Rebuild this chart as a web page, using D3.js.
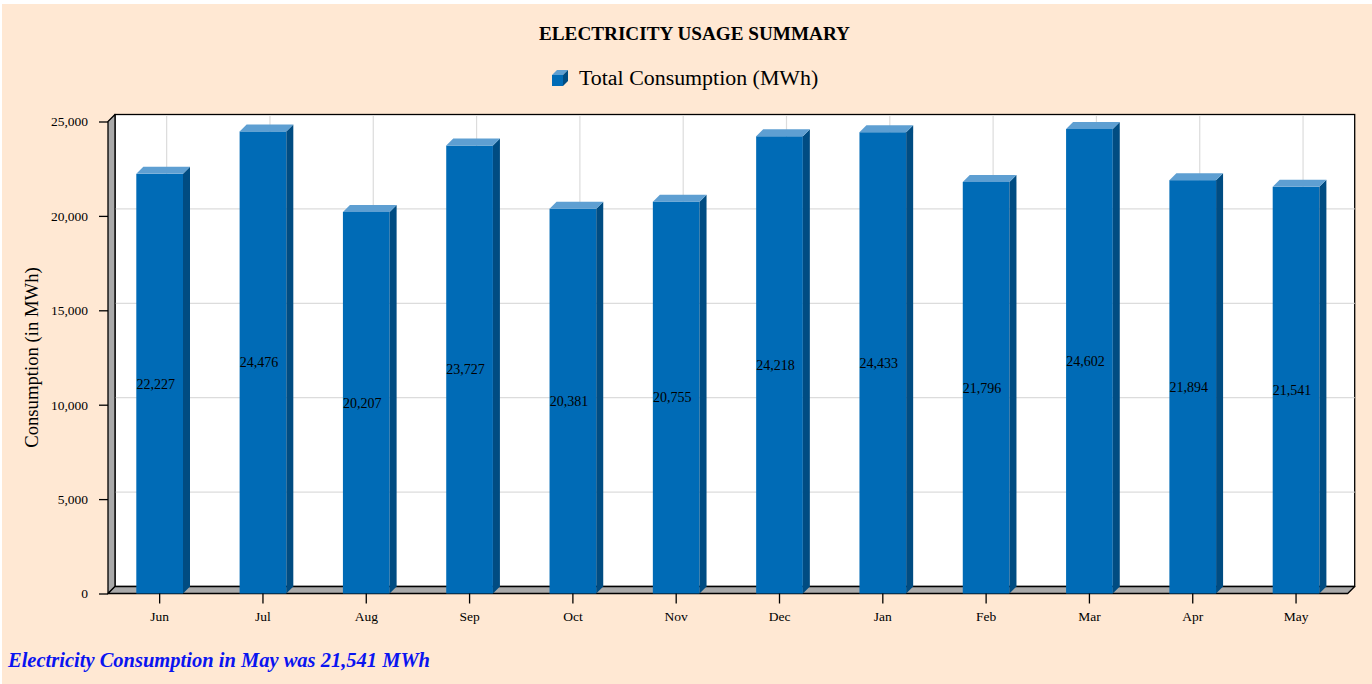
<!DOCTYPE html>
<html>
<head>
<meta charset="utf-8">
<script src="https://cdn.jsdelivr.net/npm/d3@7"></script>
<style>
  html, body { margin: 0; padding: 0; background: #ffffff; }
  svg { display: block; }
  text { font-family: "Liberation Serif", "Times New Roman", serif; }
</style>
</head>
<body>
<svg id="chart" width="1372" height="684"></svg>
<script>
// Monthly consumption figures (MWh)
const months = ["Jun", "Jul", "Aug", "Sep", "Oct", "Nov", "Dec", "Jan", "Feb", "Mar", "Apr", "May"];
const consumption = [22227, 24476, 20207, 23727, 20381, 20755, 24218, 24433, 21796, 24602, 21894, 21541];
const yTicks = [0, 5000, 10000, 15000, 20000, 25000];

(function () {
  const svg = d3.select("#chart");
  const W = 1372, H = 684;

  // Page background panel
  svg.append("rect").attr("x", 2).attr("y", 4).attr("width", W - 2).attr("height", H - 4)
    .attr("fill", "#FFE8D3");

  // Front plane of the 3D canvas and its depth offset
  const pLeft = 108, pRight = 1347.7, pTop = 121.5, pBottom = 593.5;
  const dx = 7, dy = 7;

  const x = d3.scaleBand().domain(months).range([pLeft, pRight]).padding(0);
  const y = d3.scaleLinear().domain([0, 25000]).range([pBottom, pTop]);
  const fmt = d3.format(",");

  // Back wall
  svg.append("rect")
    .attr("x", pLeft + dx).attr("y", pTop - dy)
    .attr("width", pRight - pLeft).attr("height", pBottom - pTop)
    .attr("fill", "#ffffff").attr("stroke", "#000").attr("stroke-width", 1.3);

  // Grid lines on the back wall
  const grid = svg.append("g").attr("stroke", "#DCDCDC").attr("stroke-width", 1.2);
  grid.selectAll("line.h").data(yTicks.filter(v => v > 0 && v < 25000)).join("line")
    .attr("class", "h")
    .attr("x1", pLeft + dx).attr("x2", pRight + dx)
    .attr("y1", d => y(d) - dy).attr("y2", d => y(d) - dy);
  grid.selectAll("line.v").data(months).join("line")
    .attr("class", "v")
    .attr("x1", d => x(d) + x.bandwidth() / 2 + dx).attr("x2", d => x(d) + x.bandwidth() / 2 + dx)
    .attr("y1", pTop - dy + 1).attr("y2", pBottom - dy);

  // Left wall and floor
  svg.append("polygon")
    .attr("points", [[pLeft, pTop], [pLeft + dx, pTop - dy], [pLeft + dx, pBottom - dy], [pLeft, pBottom]].join(" "))
    .attr("fill", "#A9A9A9").attr("stroke", "#000").attr("stroke-width", 1.3).attr("stroke-linejoin", "round");
  svg.append("polygon")
    .attr("points", [[pLeft, pBottom], [pLeft + dx, pBottom - dy], [pRight + dx, pBottom - dy], [pRight, pBottom]].join(" "))
    .attr("fill", "#A9A9A9").attr("stroke", "#000").attr("stroke-width", 1.3).attr("stroke-linejoin", "round");

  // 3D columns
  const barW = x.bandwidth() * 0.452;
  const data = months.map((m, i) => ({ m, v: consumption[i] }));
  const bars = svg.append("g").selectAll("g").data(data).join("g");
  bars.each(function (d) {
    const g = d3.select(this);
    const x0 = x(d.m) + x.bandwidth() / 2 - barW / 2;
    const x1 = x0 + barW;
    const yt = y(d.v), yb = y(0);
    g.append("rect").attr("x", x0).attr("y", yt).attr("width", barW).attr("height", yb - yt)
      .attr("fill", "#006BB6");
    g.append("polygon")
      .attr("points", [[x1, yt], [x1 + dx, yt - dy], [x1 + dx, yb - dy], [x1, yb]].join(" "))
      .attr("fill", "#004C82");
    g.append("polygon")
      .attr("points", [[x0, yt], [x0 + dx, yt - dy], [x1 + dx, yt - dy], [x1, yt]].join(" "))
      .attr("fill", "#5E9FD2");
    g.append("text")
      .attr("x", x0 + barW / 2 - 4).attr("y", (yt + yb) / 2)
      .attr("dy", "0.35em").attr("text-anchor", "middle")
      .attr("font-size", "14px").attr("fill", "#000")
      .text(fmt(d.v));
  });

  // Axes
  const yAxis = d3.axisLeft(y).tickValues(yTicks).tickFormat(fmt).tickSize(9).tickPadding(11);
  const gy = svg.append("g").attr("transform", `translate(${pLeft},0)`).call(yAxis);
  gy.select(".domain").remove();
  gy.selectAll(".tick line").attr("stroke", "#000").attr("stroke-width", 1.3);
  gy.selectAll(".tick text").attr("font-size", "13.5px").attr("fill", "#000")
    .attr("font-family", "'Liberation Serif', serif");

  const xAxis = d3.axisBottom(x).tickSize(10).tickPadding(8);
  const gx = svg.append("g").attr("transform", `translate(0,${pBottom})`).call(xAxis);
  gx.select(".domain").remove();
  gx.selectAll(".tick line").attr("stroke", "#000").attr("stroke-width", 1.3);
  gx.selectAll(".tick text").attr("font-size", "13.5px").attr("fill", "#000")
    .attr("font-family", "'Liberation Serif', serif");

  // Title
  svg.append("text").attr("x", 694.5).attr("y", 40).attr("text-anchor", "middle")
    .attr("font-size", "19.2px").attr("font-weight", "bold").attr("fill", "#000")
    .text("ELECTRICITY USAGE SUMMARY");

  // Legend
  const lg = svg.append("g").attr("transform", "translate(552,70)");
  lg.append("rect").attr("x", 0).attr("y", 5).attr("width", 11).attr("height", 11).attr("fill", "#006BB6");
  lg.append("polygon").attr("points", "0,5 5,0 16,0 11,5").attr("fill", "#5E9FD2");
  lg.append("polygon").attr("points", "11,5 16,0 16,11 11,16").attr("fill", "#004C82");
  svg.append("text").attr("x", 579).attr("y", 85)
    .attr("font-size", "21.9px").attr("fill", "#000")
    .text("Total Consumption (MWh)");

  // Y-axis title
  svg.append("text")
    .attr("transform", `translate(38,${(pTop + pBottom) / 2}) rotate(-90)`)
    .attr("text-anchor", "middle").attr("font-size", "18.7px").attr("fill", "#000")
    .text("Consumption (in MWh)");

  // Footnote
  svg.append("text").attr("x", 8).attr("y", 667)
    .attr("font-size", "20.5px").attr("font-weight", "bold").attr("font-style", "italic")
    .attr("fill", "#0A14F0")
    .text(`Electricity Consumption in ${months[months.length - 1]} was ${fmt(consumption[consumption.length - 1])} MWh`);
})();
</script>
</body>
</html>
